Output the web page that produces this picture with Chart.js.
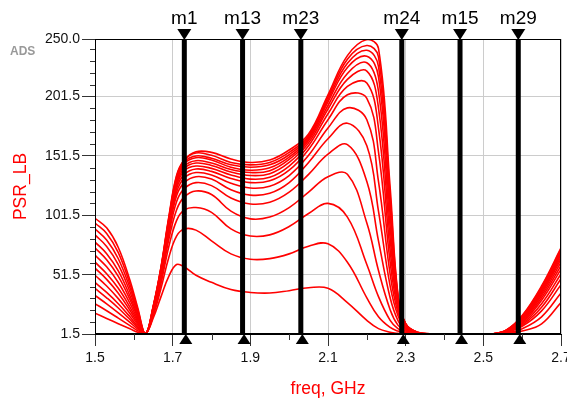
<!DOCTYPE html>
<html>
<head>
<meta charset="utf-8">
<script src="https://cdn.jsdelivr.net/npm/chart.js@4.4.1/dist/chart.umd.min.js"></script>
<style>
  html, body { margin: 0; padding: 0; background: #fff; }
  #wrap { width: 567px; height: 401px; }
</style>
</head>
<body>
<div id="wrap"><canvas id="myChart" width="567" height="401"></canvas></div>
<script>
// sweep of PSR_LB vs frequency, one array per trace (lowest to highest)
const freq = [1.5, 1.53, 1.56, 1.59, 1.61, 1.63, 1.65, 1.67, 1.69, 1.71, 1.73, 1.76, 1.8, 1.85, 1.9, 1.95, 2.0, 2.05, 2.1, 2.15, 2.2, 2.23, 2.26, 2.28, 2.3, 2.33, 2.37, 2.45, 2.52, 2.56, 2.6, 2.65, 2.7]

const psr0 = [19, 14.6, 10.2, 5.9, 2.9, 1.5, 15, 33, 50, 60, 58, 51, 45, 39, 36.5, 36, 38, 40.5, 40, 28, 13, 6, 3, 2, 1.5, 1.5, 1.5, 1.5, 1.5, 2, 4, 10, 28]
const psr1 = [27, 21.1, 14.9, 8.6, 4.3, 1.5, 17, 40, 66, 84, 90, 89, 80, 69, 64.5, 65, 69, 75.5, 77.5, 62, 32, 16, 7, 4, 2.5, 1.5, 1.5, 1.5, 1.5, 2.5, 6, 16, 36]
const psr2 = [34, 26.9, 19.3, 11.3, 5.6, 1.5, 18, 44, 75, 97, 106, 108, 104, 90, 84, 85, 92, 103, 111.5, 100, 60, 33, 13, 6, 3, 1.5, 1.5, 1.5, 1.5, 3, 8, 21, 43]
const psr3 = [40, 32, 23.4, 13.7, 6.9, 1.5, 19, 47, 81, 106, 117, 122, 119, 105, 98.5, 100, 108, 121, 134, 136, 95, 55, 22, 9, 4, 1.8, 1.5, 1.5, 1.5, 3, 9, 24, 48]
const psr4 = [45, 36.5, 27, 16, 8, 1.5, 20, 49, 85, 113, 124, 129, 126.5, 116, 111, 112.5, 121, 136, 153, 161, 130, 80, 32, 13, 5, 2, 1.5, 1.5, 1.5, 3.5, 10, 27, 52]
const psr5 = [51, 41.9, 31.3, 18.7, 9.4, 1.5, 21, 51, 88, 118, 129, 134, 132, 123, 118.5, 120, 129, 146, 166, 179, 160, 105, 42, 17, 6, 2, 1.5, 1.5, 1.5, 3.5, 11, 30, 56]
const psr6 = [57, 47.5, 35.9, 21.5, 10.8, 1.5, 22, 52, 90, 121, 133, 137.5, 135.5, 128.5, 124.5, 126, 135, 152, 175, 192, 182, 130, 52, 20, 7, 2, 1.5, 1.5, 1.5, 4, 12, 32, 59]
const psr7 = [62, 52.3, 40, 24.2, 12.2, 1.5, 22.5, 53, 92, 124, 136, 140.5, 138.5, 132.5, 129, 130.5, 139.5, 157, 182, 203, 200, 155, 62, 23, 8, 2.5, 1.5, 1.5, 1.5, 4, 13, 34, 62]
const psr8 = [68, 58.1, 44.9, 27.3, 13.8, 1.5, 23, 54, 94, 126, 139, 143, 141, 135.5, 132, 133.5, 143, 160, 187, 210, 213, 175, 72, 26, 8.5, 2.5, 1.5, 1.5, 1.5, 4, 13.5, 35.5, 64.5]
const psr9 = [74, 64, 50, 30.6, 15.5, 1.5, 23.5, 55, 95, 128, 141, 145.5, 143.5, 138, 135, 136.5, 146, 162.5, 191, 216, 223, 192, 82, 28, 9, 2.5, 1.5, 1.5, 1.5, 4.5, 14, 37, 66.5]
const psr10 = [79, 69.1, 54.6, 33.6, 17, 1.5, 24, 56, 96, 130, 143, 147.5, 145.5, 140, 137.5, 139, 148.5, 164.5, 194, 221, 230, 206, 92, 30, 9.5, 2.5, 1.5, 1.5, 1.5, 4.5, 15, 38, 68.5]
const psr11 = [85, 75.3, 60, 37.1, 18.8, 1.5, 24, 56.5, 97, 131, 145, 150, 148, 142, 139.5, 141.5, 150.5, 166, 197, 226, 235.5, 218, 102, 32, 10, 3, 1.5, 1.5, 1.5, 4.5, 15.5, 39, 70]
const psr12 = [90, 80.7, 64.9, 40.4, 20.4, 1.5, 24.5, 57, 98, 132.5, 146.5, 151.5, 149.5, 144, 142, 144, 152.5, 167.5, 199, 229.5, 240.5, 227, 110, 33, 10, 3, 1.5, 1.5, 1.5, 5, 16, 40, 71.5]
const psr13 = [95, 86.2, 70, 43.7, 22.1, 1.5, 25, 57.5, 99, 134, 148, 154, 152, 146, 144, 146, 154.5, 168.5, 201, 233, 244.5, 235, 118, 34, 10, 3, 1.5, 1.5, 1.5, 5, 16.5, 41, 73]
const psr14 = [99, 90.9, 74.4, 46.7, 23.7, 1.5, 25, 58, 100, 135, 148, 155, 154.5, 149, 146, 148, 156.5, 170, 203, 236, 249.5, 242, 125, 35, 10, 3, 1.5, 1.5, 1.5, 5, 17, 42, 74]

const curves = [psr0, psr1, psr2, psr3, psr4, psr5, psr6, psr7, psr8, psr9, psr10, psr11, psr12, psr13, psr14]

const markerNames = ['m1', 'm13', 'm23', 'm24', 'm15', 'm29']
const markerFreq = [1.73, 1.88, 2.03, 2.29, 2.44, 2.59]

const xTicks = [1.5, 1.7, 1.9, 2.1, 2.3, 2.5, 2.7]
const xMinorTicks = [1.6, 1.8, 2.0, 2.2, 2.4, 2.6]
const yTicks = [1.5, 51.5, 101.5, 151.5, 201.5, 250.0]
const yMinorTicks = [11.5, 21.5, 31.5, 41.5, 61.5, 71.5, 81.5, 91.5, 111.5, 121.5, 131.5, 141.5, 161.5, 171.5, 181.5, 191.5, 211.5, 221.5, 231.5, 241.5]

Chart.defaults.font.family = '"Liberation Sans", Arial, sans-serif'

const datasets = []
markerFreq.forEach(f => {
  datasets.push({
    data: [{ x: f, y: 1.5 }, { x: f, y: 250 }],
    borderColor: '#000',
    borderWidth: 5,
    borderCapStyle: 'butt',
    pointRadius: 0,
    order: 0
  })
})
curves.forEach(c => {
  datasets.push({
    data: freq.map((f, i) => ({ x: f, y: c[i] })),
    borderColor: '#ff0000',
    borderWidth: 1.6,
    pointRadius: 0,
    tension: 0.4,
    order: 1
  })
})

// frame, minor ticks, marker triangles + names, ADS stamp
const adsDecor = {
  id: 'adsDecor',
  afterDraw(chart) {
    const { ctx, chartArea: a, scales: { x, y } } = chart
    ctx.save()
    ctx.strokeStyle = '#000'
    ctx.lineWidth = 1
    ctx.strokeRect(a.left + 0.5, a.top + 0.5, a.right - a.left - 1, a.bottom - a.top - 1)

    ctx.strokeStyle = '#333'
    ctx.beginPath()
    yMinorTicks.forEach(v => {
      const py = Math.round(y.getPixelForValue(v)) + 0.5
      ctx.moveTo(a.left - 5, py)
      ctx.lineTo(a.left, py)
    })
    xMinorTicks.forEach(v => {
      const px = Math.round(x.getPixelForValue(v)) + 0.5
      ctx.moveTo(px, a.bottom)
      ctx.lineTo(px, a.bottom + 6)
    })
    ctx.stroke()

    ctx.fillStyle = '#000'
    ctx.font = '19px "Liberation Sans", Arial, sans-serif'
    ctx.textAlign = 'center'
    ctx.textBaseline = 'alphabetic'
    markerFreq.forEach((f, i) => {
      const px = x.getPixelForValue(f)
      ctx.beginPath()
      ctx.moveTo(px - 7, a.top - 10)
      ctx.lineTo(px + 7, a.top - 10)
      ctx.lineTo(px, a.top + 1)
      ctx.closePath()
      ctx.fill()
      ctx.beginPath()
      ctx.moveTo(px + 1.5, a.bottom)
      ctx.lineTo(px + 8, a.bottom + 10)
      ctx.lineTo(px - 5, a.bottom + 10)
      ctx.closePath()
      ctx.fill()
      ctx.fillText(markerNames[i], px, a.top - 15)
    })

    ctx.font = 'bold 12px "Liberation Sans", Arial, sans-serif'
    ctx.fillStyle = '#999'
    ctx.filter = 'blur(0.5px)'
    ctx.textAlign = 'left'
    ctx.fillText('ADS', 10, 55)
    ctx.restore()
  }
}

const config = {
  type: 'line',
  data: { datasets: datasets },
  options: {
    responsive: false,
    animation: false,
    devicePixelRatio: 1,
    layout: { padding: { top: 39, right: 6, left: 0, bottom: 0 } },
    plugins: { legend: { display: false }, tooltip: { enabled: false } },
    scales: {
      x: {
        type: 'linear',
        min: 1.5,
        max: 2.7,
        afterBuildTicks: s => { s.ticks = xTicks.map(v => ({ value: v })) },
        afterFit: s => { s.height = 67; s.paddingLeft = 0; s.paddingRight = 0 },
        ticks: { callback: v => v.toFixed(1), color: '#111', font: { size: 14 }, padding: 4, maxRotation: 0, autoSkip: false },
        grid: { color: '#cccccc', tickColor: '#333', tickLength: 12 },
        border: { color: '#000' },
        title: { display: true, text: 'freq, GHz', color: '#ff0000', font: { size: 17.5 }, padding: { top: 0, bottom: 1.5 } }
      },
      y: {
        min: 1.5,
        max: 250,
        afterBuildTicks: s => { s.ticks = yTicks.map(v => ({ value: v })) },
        afterFit: s => { s.width = 95 },
        ticks: { callback: v => v === 250 ? '250.0' : v.toFixed(1), color: '#111', font: { size: 14 }, padding: 2 },
        grid: { color: '#cccccc', tickColor: '#333', tickLength: 13 },
        border: { color: '#000' },
        title: { display: true, text: 'PSR_LB', color: '#ff0000', font: { size: 17.5 }, padding: { top: 11, bottom: 0 } }
      }
    }
  },
  plugins: [adsDecor]
}

const myChart = new Chart(document.getElementById('myChart'), config)
</script>
</body>
</html>
